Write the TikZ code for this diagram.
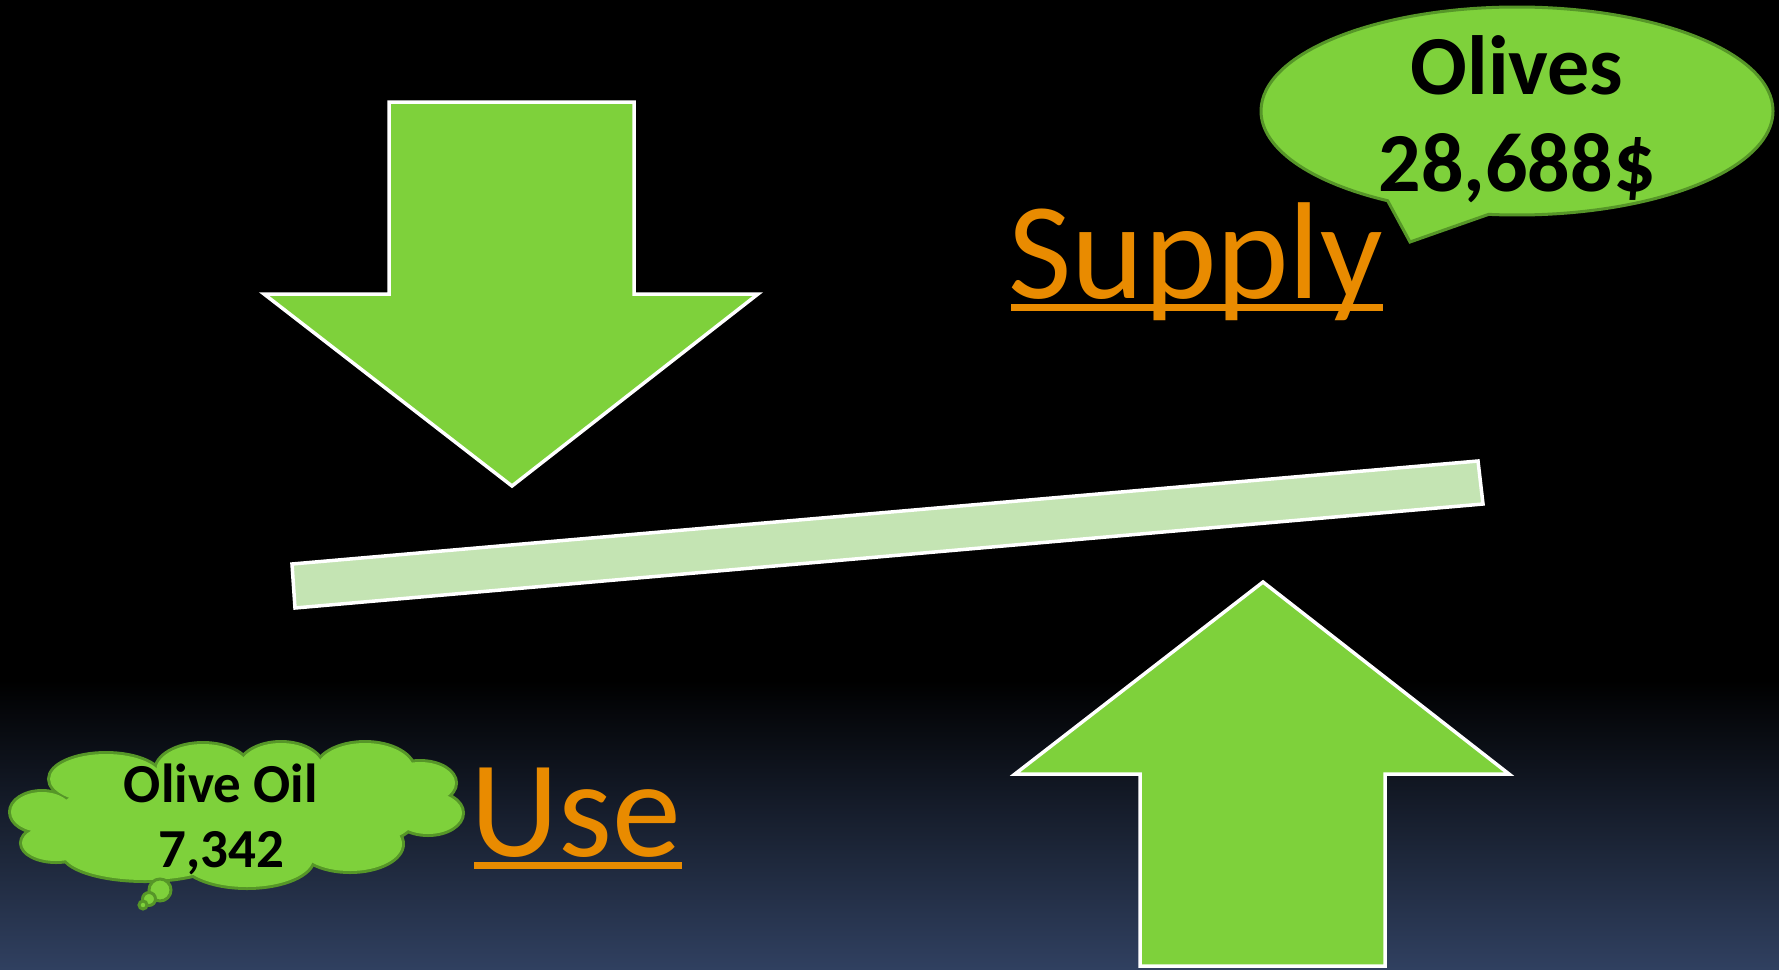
\documentclass[tikz,border=0pt]{standalone}
\usepackage{fontspec}
\setmainfont{Carlito}
\usetikzlibrary{calc,shapes.callouts}

\definecolor{leafgreen}{RGB}{126,209,59}
\definecolor{olivedark}{RGB}{86,150,40}
\definecolor{beamgreen}{RGB}{196,228,179}
\definecolor{signorange}{RGB}{233,139,0}
\definecolor{nightblue}{RGB}{48,64,96}

\begin{document}
\begin{tikzpicture}[
  x=1pt, y=-1pt,
  block arrow/.style={fill=leafgreen, draw=white, line width=3.5pt, line join=miter},
  beam/.style={fill=beamgreen, draw=white, line width=3.5pt},
  bubble/.style={fill=leafgreen, draw=olivedark, line width=3pt},
  puff outline/.style={draw=olivedark, line width=6pt},
  bubble text/.style={font=\bfseries\fontsize{84}{90}\selectfont, inner sep=0pt},
  cloud text/.style={font=\bfseries\fontsize{55}{60}\selectfont, inner sep=0pt},
  heading/.style={text=signorange, font=\fontsize{138}{150}\selectfont, inner sep=0pt, anchor=base west},
  underline/.style={draw=signorange, line width=7pt}
]

\useasboundingbox (0,0) rectangle (1779,969);
\fill[black] (0,0) rectangle (1779,969);
\shade[top color=black, bottom color=nightblue] (0,680) rectangle (1779,969);

\coordinate (D1) at (389,102);
\coordinate (D2) at (634,102);
\coordinate (D3) at (634,294);
\coordinate (D4) at (758,294);
\coordinate (D5) at (512,486);
\coordinate (D6) at (264,294);
\coordinate (D7) at (389,294);
\draw[block arrow] (D1) -- (D2) -- (D3) -- (D4) -- (D5) -- (D6) -- (D7) -- cycle;

\coordinate (U1) at (1263,582);
\coordinate (U2) at (1509,774);
\coordinate (U3) at (1385,774);
\coordinate (U4) at (1385,966);
\coordinate (U5) at (1140,966);
\coordinate (U6) at (1140,774);
\coordinate (U7) at (1015,774);
\draw[block arrow] (U1) -- (U2) -- (U3) -- (U4) -- (U5) -- (U6) -- (U7) -- cycle;

\coordinate (L1) at (292,564);
\coordinate (L2) at (1478,461);
\coordinate (L3) at (1483,504);
\coordinate (L4) at (295,608);
\draw[beam] (L1) -- (L2) -- (L3) -- (L4) -- cycle;

\node[ellipse callout, bubble, minimum width=512pt, minimum height=208pt, inner sep=0pt,
  callout absolute pointer={(1410,242)}, callout pointer arc=24] (olives) at (1517,111) {};
\node[bubble text] (olivesname) at (1517,65) {Olives};
\node[bubble text] (olivesvalue) at (1517,168) {28,688\$};

\def\puffs{106/779/56/25, 203/771/47/27, 281/769/42/26, 365/771/49/28,
  420/783/35/21, 428/813/34/21, 350/844/52/27, 247/858/66/29,
  145/853/82/27, 56/843/34/18, 42/812/31/20, 237/815/180/48}
\foreach \cx/\cy/\rx/\ry in \puffs {
  \draw[puff outline] (\cx,\cy) ellipse[x radius=\rx, y radius=\ry];
}
\foreach \cx/\cy/\rx/\ry in \puffs {
  \fill[leafgreen] (\cx,\cy) ellipse[x radius=\rx, y radius=\ry];
}
\node[bubble, circle, minimum size=22pt, inner sep=0pt] (puffbig) at (160,890) {};
\node[bubble, circle, minimum size=13pt, inner sep=0pt] (puffmid) at (149,899) {};
\node[bubble, circle, minimum size=8pt, inner sep=0pt] (puffsmall) at (143,905) {};
\node[cloud text] (oilname) at (221,783) {Olive Oil};
\node[cloud text] (oilvalue) at (221,853) {7,342};

\node[heading] (supply) at (1008,298) {Supply};
\draw[underline] ([xshift=3pt, yshift=-9pt]supply.base west) -- ([yshift=-9pt]supply.base east);
\node[heading] (use) at (470,856) {Use};
\draw[underline] ([xshift=4pt, yshift=-9pt]use.base west) -- ([yshift=-9pt]use.base east);
\end{tikzpicture}
\end{document}
